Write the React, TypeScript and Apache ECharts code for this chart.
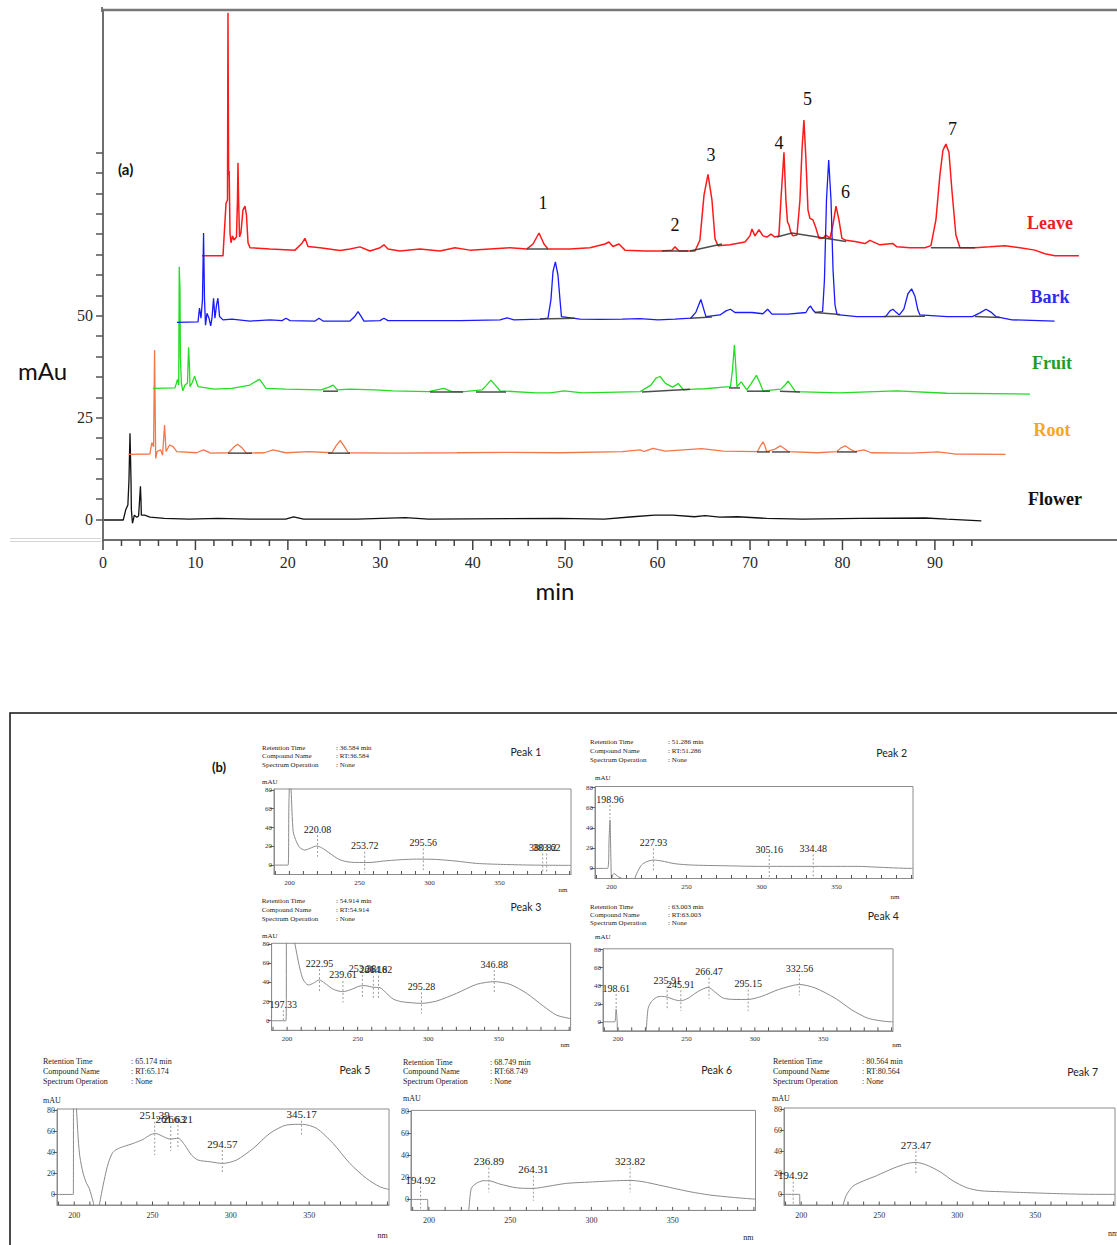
import React, { useEffect, useRef } from 'react';
import * as echarts from 'echarts';

// ---------------- (a) chromatograms: [time (min), signal (mAu)] ----------------
const leave = [[10.71,64.7],[12.98,64.7],[13.31,77.6],[13.47,78.4],[13.52,124.3],[13.59,84.5],[13.65,85.5],[13.74,70.3],[13.85,67.9],[14.01,69.6],[14.17,68.6],[14.44,69.3],[14.55,78.4],[14.6,87.5],[14.67,78.4],[14.77,69.3],[14.93,70.5],[15.14,75.9],[15.36,76.9],[15.52,74.7],[15.69,67.9],[15.9,66.7],[18.07,66.4],[20.77,66.1],[21.53,67.8],[21.85,69.0],[22.18,67.0],[23.48,66.7],[25.64,66.0],[26.72,66.4],[27.81,66.9],[28.88,65.9],[29.98,66.7],[30.4,67.4],[30.83,66.4],[32.13,65.9],[34.29,66.4],[36.46,65.9],[38.08,66.7],[39.7,66.1],[41.86,66.4],[44.03,66.7],[45.87,66.4],[46.52,67.6],[47.17,70.3],[47.71,67.6],[48.14,66.4],[50.52,66.4],[52.68,66.7],[54.31,67.6],[54.74,68.1],[55.17,67.0],[55.82,67.6],[56.47,66.1],[58.63,65.9],[60.26,65.9],[61.56,66.1],[61.88,66.9],[62.32,65.9],[64.04,65.9],[64.58,68.6],[65.02,79.6],[65.45,84.7],[65.88,78.4],[66.21,68.9],[66.53,67.2],[67.83,67.4],[69.45,68.1],[69.99,69.6],[70.21,71.3],[70.53,69.6],[70.97,71.1],[71.4,69.6],[71.83,69.3],[72.26,70.0],[72.69,69.3],[73.12,69.6],[73.34,78.4],[73.67,90.1],[73.88,78.4],[74.05,73.0],[74.21,72.3],[74.43,70.3],[74.64,69.6],[75.08,69.8],[75.4,78.4],[75.62,90.6],[75.83,98.0],[76.05,88.2],[76.27,75.9],[76.48,73.9],[76.81,73.5],[77.13,71.5],[77.46,69.0],[77.89,69.0],[78.21,69.8],[78.65,69.0],[78.97,72.3],[79.3,76.9],[79.62,73.5],[79.94,69.0],[80.38,68.5],[81.35,68.2],[82.43,67.7],[82.97,68.5],[84.05,67.4],[85.46,67.7],[85.89,66.9],[87.3,66.7],[88.92,66.7],[89.57,67.2],[90.11,73.5],[90.54,84.5],[90.87,90.6],[91.19,92.1],[91.52,90.1],[91.84,80.8],[92.27,69.8],[92.71,66.7],[94.33,66.7],[95.95,66.9],[97.58,67.2],[99.2,66.7],[100.82,66.1],[101.9,65.2],[102.99,64.7],[105.58,64.7]];

const bark = [[8.0,48.4],[10.28,48.5],[10.44,51.9],[10.6,49.4],[10.76,53.9],[10.88,70.3],[10.98,53.9],[11.09,47.7],[11.25,50.6],[11.47,49.4],[11.65,47.5],[11.79,49.4],[11.96,54.3],[12.11,49.4],[12.28,52.6],[12.43,54.3],[12.61,49.8],[12.98,49.0],[13.95,49.2],[15.9,48.7],[18.07,49.0],[19.37,48.8],[19.8,49.4],[20.23,48.8],[22.94,48.7],[23.37,49.4],[23.8,48.7],[26.72,48.7],[27.26,49.9],[27.59,51.0],[27.91,49.9],[28.23,48.7],[29.97,48.8],[30.39,49.4],[30.83,48.8],[34.29,48.8],[38.62,48.8],[42.95,49.0],[43.71,49.5],[44.46,49.0],[47.27,49.2],[48.14,49.4],[48.46,53.9],[48.68,60.8],[48.94,63.2],[49.22,60.0],[49.44,53.9],[49.6,49.8],[51.6,49.2],[53.77,49.1],[56.15,49.2],[58.09,49.3],[60.04,49.0],[61.88,49.2],[63.59,49.4],[64.15,50.9],[64.68,54.0],[65.02,51.4],[65.23,49.8],[66.75,50.2],[67.4,51.2],[67.88,51.6],[68.37,50.8],[70.21,50.8],[71.39,50.5],[71.9,51.6],[72.37,50.4],[74.1,50.4],[76.05,50.8],[76.32,51.9],[76.55,52.4],[76.81,51.4],[77.06,50.8],[77.85,51.0],[78.05,58.8],[78.27,78.4],[78.51,88.2],[78.76,78.4],[78.98,61.2],[79.19,52.7],[79.41,50.3],[81.57,49.8],[84.67,49.8],[85.14,51.2],[85.46,51.6],[85.78,50.9],[86.16,50.2],[86.65,51.7],[87.08,55.4],[87.48,56.6],[87.84,54.8],[88.16,51.4],[88.38,50.2],[91.3,49.8],[94.05,49.8],[94.87,50.7],[95.53,51.6],[96.06,50.9],[96.59,49.8],[98.33,49.0],[102.95,48.7]];

const fruit = [[5.4,32.2],[7.79,32.3],[8.06,34.4],[8.19,33.0],[8.25,62.0],[8.33,56.3],[8.37,40.0],[8.48,33.4],[8.64,31.6],[8.87,33.0],[9.14,33.5],[9.26,42.3],[9.37,36.7],[9.41,32.6],[9.63,33.5],[9.91,35.2],[10.17,33.3],[10.3,32.6],[12.04,32.0],[13.95,32.2],[15.9,33.0],[16.44,33.8],[16.94,34.4],[17.3,33.3],[17.63,32.2],[19.76,32.0],[23.58,31.8],[24.45,32.5],[24.9,33.0],[25.37,31.8],[26.72,32.0],[29.42,31.8],[31.36,31.6],[35.22,31.4],[36.88,32.2],[37.75,31.4],[39.05,31.4],[41.0,31.8],[41.43,32.8],[41.97,34.2],[42.51,32.8],[42.95,31.6],[46.81,31.1],[48.36,31.1],[49.91,31.6],[51.87,31.1],[58.12,31.4],[59.28,33.0],[59.82,34.7],[60.27,35.1],[60.85,33.4],[61.63,32.5],[62.23,33.4],[62.81,31.8],[63.98,32.0],[65.14,32.1],[67.1,32.5],[67.88,32.6],[68.1,36.7],[68.31,42.8],[68.48,36.7],[68.58,32.6],[69.05,33.8],[69.65,31.8],[70.1,33.3],[70.69,35.4],[71.07,33.5],[71.4,31.6],[73.35,32.0],[73.78,33.0],[74.13,34.0],[74.48,32.8],[74.91,31.4],[79.6,31.1],[85.85,31.6],[91.3,31.0],[100.28,30.8]];

const root = [[2.77,16.0],[5.08,16.1],[5.28,18.9],[5.47,17.9],[5.58,41.6],[5.7,15.0],[5.85,16.7],[6.24,17.1],[6.44,15.8],[6.66,23.2],[6.82,16.7],[7.2,18.3],[7.59,17.9],[7.98,16.7],[10.1,16.4],[10.88,17.1],[11.65,16.3],[13.59,16.4],[14.07,17.6],[14.55,18.5],[15.04,17.6],[15.51,16.3],[17.45,16.4],[18.41,17.1],[19.76,16.4],[22.28,16.7],[24.77,16.4],[25.21,18.1],[25.68,19.4],[26.07,18.1],[26.53,16.4],[31.36,16.3],[38.31,16.4],[43.7,16.5],[49.44,16.4],[56.17,16.7],[58.12,17.1],[58.51,16.7],[59.49,17.5],[60.85,16.8],[64.76,17.4],[67.1,16.8],[70.81,16.7],[71.13,18.1],[71.4,19.1],[71.61,18.1],[71.79,16.7],[72.7,17.3],[73.27,18.1],[73.78,17.3],[74.13,16.7],[77.25,16.4],[79.4,16.7],[79.83,17.6],[80.3,18.1],[80.81,17.3],[81.35,16.7],[82.32,17.1],[83.11,16.4],[87.41,16.3],[90.33,16.6],[92.09,16.1],[97.64,16.0]];

const flower = [[0.1,-0.1],[2.19,-0.1],[2.46,2.4],[2.69,3.6],[2.81,9.7],[2.92,21.2],[3.03,9.7],[3.07,2.4],[3.19,-0.9],[3.39,1.1],[3.66,0.6],[3.85,0.9],[3.96,4.8],[4.05,8.2],[4.11,4.8],[4.15,1.1],[4.5,1.1],[5.08,0.6],[6.63,0.3],[9.34,0.1],[12.43,0.3],[15.9,0.1],[19.76,0.1],[20.62,0.7],[21.7,0.1],[27.48,0.1],[32.71,0.5],[35.22,0.1],[49.44,0.3],[54.22,0.1],[57.33,0.7],[59.68,1.1],[61.63,1.1],[63.98,0.7],[65.14,1.0],[66.71,0.6],[68.66,0.7],[71.79,0.3],[75.69,0.1],[81.94,0.3],[88.98,0.4],[91.3,0.1],[95.02,-0.3]];

// integration baselines drawn under the peaks
const leaveBaselines = [[[45.87,66.4],[48.14,66.4]],[[60.47,65.9],[63.28,65.9]],[[63.5,65.9],[66.96,67.6]],[[72.91,69.3],[74.53,70.3],[80.38,68.2]],[[89.57,66.7],[94.33,66.7]]];
const barkBaselines = [[[47.27,49.2],[51.06,49.4]],[[63.5,49.4],[65.88,49.7]],[[77.02,50.8],[79.73,50.3]],[[84.45,49.8],[88.92,49.9]],[[94.33,49.8],[97.04,49.6]]];
const fruitBaselines = [[[23.8,31.5],[25.42,31.5]],[[35.37,31.3],[38.94,31.3]],[[40.35,31.3],[43.6,31.3]],[[58.31,31.3],[63.5,32.0]],[[67.72,32.3],[68.91,32.3]],[[69.67,31.5],[72.15,31.5]],[[73.23,31.5],[75.4,31.3]]];
const rootBaselines = [[[13.52,16.3],[16.12,16.3]],[[24.34,16.3],[26.72,16.3]],[[70.75,16.6],[72.15,16.6]],[[72.37,16.6],[74.32,16.6]],[[79.4,16.6],[81.57,16.6]]];

const traceNames = ['Leave', 'Bark', 'Fruit', 'Root', 'Flower'];
const xMajorTicks = [0, 10, 20, 30, 40, 50, 60, 70, 80, 90];
const xMinorTicks = [2,4,6,8,12,14,16,18,22,24,26,28,32,34,36,38,42,44,46,48,52,54,56,58,62,64,66,68,72,74,76,78,82,84,86,88,92,94];
const yLabelValues = [0, 25, 50];
const yTickValues = [0,5,10,15,20,25,30,35,40,45,50,55,60,65,70,75,80,85,90];
const peakNumbers = ['1', '2', '3', '4', '5', '6', '7'];

// ---------------- (b) UV spectra: [wavelength (nm), mAU] ----------------
const p1Curve = [[189,0],[199.1,0],[199.6,60],[200.3,95],[201.2,80],[202.7,35.5],[205,25],[207.5,18.5],[211,16],[214.6,17.8],[219.4,20.3],[223,18.5],[229,12.4],[235,6.4],[241,3.6],[248,2.8],[257.5,2.8],[267,4.3],[279,5.7],[290.8,6.4],[305,6],[319,4.3],[333.6,1.8],[352.7,0.7],[374,0],[401,-0.3]];
const p2Curve = [[189,0],[197.4,0],[198.4,30],[199,47.9],[199.6,10],[200.1,-9.9],[201.6,-5],[204.5,-8.3],[207,-10],[209,-14],[214.5,-14],[215.5,-10],[216.8,-5],[220,3.3],[223.4,6.6],[227.9,8.25],[233.5,7.3],[242.4,4.6],[253.5,3.3],[275.8,2.6],[298,2],[331,2],[364.7,2],[375.8,1.3],[400,0],[401,0]];
const p3Curve = [[189,0],[199.2,0],[199.7,95],[204,95],[204.6,88],[206.8,70.6],[209.1,54.2],[211.5,42.7],[215,37.4],[218.6,39.2],[222.8,42.7],[226.8,39.2],[232.7,32.9],[239.4,30.4],[244.6,32.2],[251.7,36.4],[255.2,36.7],[261.1,35],[265.8,34.6],[270.5,28.7],[275.2,22.7],[281.2,19.9],[295.4,18.2],[306,20.6],[320.2,28.7],[334.4,38.1],[346.9,40.9],[358,38.1],[369.8,28.7],[381.6,15.4],[391,5.9],[401,2.2]];
const p4Curve = [[189,0],[197.6,0],[198.2,8],[198.6,13.9],[199.3,2],[200.1,-14],[219.6,-14],[220.5,-10],[222,15],[224.5,22.6],[228.1,27.1],[231.8,28.2],[235.9,27.4],[241.5,24.4],[245.9,23.3],[251.3,26.3],[258.6,33.8],[265.9,38.3],[270.8,33.1],[276.9,26.3],[285.5,24.8],[295.2,24.8],[305,28.2],[317.2,35.7],[332.6,41.4],[344,37.6],[358.6,26.3],[370.9,13.2],[383,3.8],[400,0],[401,0]];
const p5Curve = [[189,0],[199.4,0],[199.6,95],[201,95],[201.5,80],[202.6,51.6],[203.6,35.8],[205.7,19.9],[207.9,10.4],[209.6,5.7],[212.1,-7],[213.2,-14],[215,-14],[216,-10],[217.4,0.9],[219.6,16.8],[221.7,29.4],[224.5,39.6],[227.4,43],[231.3,45.3],[237.7,48.4],[244,52.2],[248.3,56.3],[251.9,57.9],[255.7,55.7],[261.1,52.5],[266.4,53.2],[270.6,46.8],[274.9,37.3],[279.1,32.6],[286.6,31],[294.7,29.4],[303.6,32.6],[314.3,43.7],[324.9,57.9],[335.5,65.8],[345.7,66.5],[354.7,62.7],[365.3,48.4],[376,29.4],[386.6,15.2],[395.1,7.3],[401,4.7]];
const p6Curve = [[189,0],[199.2,0],[199.4,-14],[223.5,-14],[224.5,-10],[226.1,10],[229.2,14.6],[233.3,17],[236.8,17],[243.6,14],[253.8,10.6],[264.1,10],[274.4,12.2],[284.7,14.6],[299,15.8],[315.5,17],[323.8,17.3],[331.8,16.1],[344.2,12.2],[360.6,7],[372.9,4],[387.3,1.8],[401,0.2]];
const p7Curve = [[189,0],[199,0],[199.2,-14],[225.9,-14],[226.8,-10],[229,-0.6],[233.3,7.8],[239.7,12.5],[248.3,17.5],[258.9,24.4],[267.5,28.8],[273.5,30],[280.3,27.5],[288.8,21.3],[297.4,12.5],[305.9,6.3],[314.5,3.4],[327.3,2.5],[344.3,1.6],[365.7,0.6],[387,0],[401,0]];

// peak-apex marks: [wavelength, dash top, dash bottom, label]
const p1Marks = [[220.08,32,8.9,'220.08'],[253.72,14.2,-7.8,'253.72'],[295.56,17.8,-5.3,'295.56'],[380.82,12.4,-8.9,'380.82'],[383.62,12.4,-8.9,'383.62']];
const p2Marks = [[198.96,62.7,49.5,'198.96'],[227.93,19.8,-3.3,'227.93'],[305.16,13.2,-9.9,'305.16'],[334.48,13.9,-9.2,'334.48']];
const p3Marks = [[197.33,11,0.7,'197.33'],[222.95,54,31,'222.95'],[239.61,41.6,19.2,'239.61'],[253.38,48,25,'253.38'],[261.16,47,24,'261.16'],[264.82,47,24,'264.82'],[295.28,29.7,7.7,'295.28'],[346.88,53,29.7,'346.88']];
const p4Marks = [[198.61,30.8,13.2,'198.61'],[235.91,39.5,15,'235.91'],[245.91,35,12,'245.91'],[266.47,48.9,25.6,'266.47'],[295.15,35.7,12,'295.15'],[332.56,52.6,29.3,'332.56']];
const p5Marks = [[251.39,69,37.3,'251.39'],[261.63,64.9,41.1,'261.63'],[266.21,65.8,42.7,'266.21'],[294.57,42.1,19.3,'294.57'],[345.17,69.9,54.7,'345.17']];
const p6Marks = [[194.92,11.6,-9.7,'194.92'],[236.89,28.9,6.4,'236.89'],[264.31,21.6,-1.2,'264.31'],[323.82,28.9,6.4,'323.82']];
const p7Marks = [[194.92,11.9,-10,'194.92'],[273.47,40.6,18.8,'273.47']];

const retentionTimes = ['36.584', '51.286', '54.914', '63.003', '65.174', '68.749', '80.564'];
const peakTitles = ['Peak 1', 'Peak 2', 'Peak 3', 'Peak 4', 'Peak 5', 'Peak 6', 'Peak 7'];
const specYLabels = [0, 20, 40, 60, 80];
const specXLabels = [200, 250, 300, 350];
const specXTicks = [190,200,210,220,230,240,250,260,270,280,290,300,310,320,330,340,350,360,370,380,390,400];

const SERIF = '"Liberation Serif", "DejaVu Serif", serif';
const SANS = 'Lato, "Open Sans", sans-serif';

const TOP_GRID = { left: 103, top: 10, width: 1014, height: 530 };
const TOP_X = { min: 0, max: 109.7 };
const SPEC_X = { min: 189, max: 401 };

const LAYOUT = [
  { grid: { left: 274, top: 789, width: 297, height: 85.5 }, hx: 262, vx: 336, hy: 748, dy: 8.3, px: 526, py: 752, mx: 262, my: 782, nx: 563, ny: 890, fs: 7, lfs: 10 },
  { grid: { left: 595, top: 786.5, width: 318, height: 92 }, hx: 590, vx: 668, hy: 741.7, dy: 9.2, px: 891.7, py: 753.3, mx: 595, my: 778.3, nx: 895, ny: 897, fs: 7, lfs: 10 },
  { grid: { left: 271.6, top: 943.3, width: 299, height: 87 }, hx: 261.7, vx: 336, hy: 901, dy: 9, px: 526, py: 906.7, mx: 262, my: 935.7, nx: 565, ny: 1045, fs: 7, lfs: 10 },
  { grid: { left: 603, top: 948.8, width: 290, height: 82 }, hx: 590, vx: 668, hy: 906.7, dy: 8.3, px: 883.3, py: 915.7, mx: 595, my: 937.3, nx: 896.7, ny: 1045, fs: 7, lfs: 10 },
  { grid: { left: 57, top: 1109, width: 332, height: 96 }, hx: 43, vx: 131, hy: 1061.7, dy: 9.7, px: 355, py: 1070, mx: 43, my: 1100.7, nx: 382.7, ny: 1235.7, fs: 8, lfs: 11 },
  { grid: { left: 411, top: 1110.4, width: 344.5, height: 100 }, hx: 403, vx: 490, hy: 1062, dy: 9.8, px: 716.7, py: 1070, mx: 403, my: 1098.3, nx: 748.3, ny: 1237.7, fs: 8, lfs: 11 },
  { grid: { left: 784, top: 1108, width: 331, height: 97 }, hx: 773, vx: 862, hy: 1061.7, dy: 9.7, px: 1082.7, py: 1072.3, mx: 772, my: 1098.3, nx: 1113, ny: 1233, fs: 8, lfs: 11 },
];

// axis tick marks, positioned with the same linear mapping the value axes use
function xTickGraphics(grid: any, range: any, values: number[], len: number, color: string, width: number) {
  const yb = grid.top + grid.height;
  return values.map((v) => {
    const x = grid.left + ((v - range.min) / (range.max - range.min)) * grid.width;
    return {
      type: 'line', silent: true, z: 100,
      shape: { x1: x, y1: yb, x2: x, y2: yb + len },
      style: { stroke: color, lineWidth: width },
    };
  });
}

function buildOption() {
  const curves = [p1Curve, p2Curve, p3Curve, p4Curve, p5Curve, p6Curve, p7Curve];
  const marks = [p1Marks, p2Marks, p3Marks, p4Marks, p5Marks, p6Marks, p7Marks];

  const grids: any[] = [TOP_GRID];
  const xAxes: any[] = [
    {
      gridIndex: 0, type: 'value', position: 'bottom', min: TOP_X.min, max: TOP_X.max,
      axisLine: { show: true, onZero: false, lineStyle: { color: '#6f6f6f', width: 2 } },
      axisTick: { show: false },
      axisLabel: { customValues: xMajorTicks, fontSize: 16, fontFamily: SERIF, color: '#2a2a2a', margin: 14 },
      splitLine: { show: false },
    },
  ];
  const yAxes: any[] = [
    {
      gridIndex: 0, type: 'value', position: 'left', min: -5, max: 125,
      axisLine: { show: true, onZero: false, lineStyle: { color: '#6f6f6f', width: 2 } },
      axisTick: { show: true, customValues: yTickValues, length: 7, lineStyle: { color: '#555', width: 1.5 } },
      axisLabel: { customValues: yLabelValues, fontSize: 16, fontFamily: SERIF, color: '#2a2a2a', margin: 10 },
      splitLine: { show: false },
    },
  ];

  const traceData = [leave, bark, fruit, root, flower];
  const traceColors = ['#ff1a1a', '#1a1aff', '#22dd22', '#f4774a', '#111111'];
  const drawOrder = [4, 3, 2, 0, 1];
  const series: any[] = [];
  drawOrder.forEach((i) => {
    series.push({
      type: 'line', name: traceNames[i], xAxisIndex: 0, yAxisIndex: 0,
      data: traceData[i], showSymbol: false, symbol: 'none',
      lineStyle: { color: traceColors[i], width: i === 0 ? 1.5 : 1.3 }, z: 3,
    });
  });
  [leaveBaselines, barkBaselines, fruitBaselines, rootBaselines].forEach((segs) => {
    series.push({
      type: 'lines', coordinateSystem: 'cartesian2d', xAxisIndex: 0, yAxisIndex: 0, polyline: true,
      data: segs.map((c) => ({ coords: c })),
      lineStyle: { color: '#3a3a3a', width: 1.5, opacity: 0.9 }, z: 4,
    });
  });

  const graphic: any[] = [];
  const txt = (text: string, x: number, y: number, o: any) => ({
    type: 'text', x, y, silent: true,
    style: Object.assign({ text, fill: '#222', align: 'left', verticalAlign: 'middle', fontFamily: SERIF, fontSize: 10 }, o),
  });

  // top panel decorations
  graphic.push({ type: 'line', shape: { x1: 102, y1: 10, x2: 1117, y2: 10 }, style: { stroke: '#777', lineWidth: 2.5 } });
  graphic.push({ type: 'line', shape: { x1: 102, y1: 7, x2: 102, y2: 12 }, style: { stroke: '#777', lineWidth: 2 } });
  graphic.push({ type: 'line', shape: { x1: 10, y1: 538.5, x2: 101, y2: 538.5 }, style: { stroke: '#d4d4d4', lineWidth: 1 } });
  graphic.push({ type: 'line', shape: { x1: 10, y1: 541.5, x2: 101, y2: 541.5 }, style: { stroke: '#d4d4d4', lineWidth: 1 } });
  xTickGraphics(TOP_GRID, TOP_X, xMajorTicks, 10, '#444', 1.5).forEach((g) => graphic.push(g));
  xTickGraphics(TOP_GRID, TOP_X, xMinorTicks, 6, '#444', 1.5).forEach((g) => graphic.push(g));
  graphic.push(txt('(a)', 118, 169, { fontFamily: SANS, fontWeight: 'bold', fontSize: 15, fill: '#111' }));
  graphic.push(txt('mAu', 18, 370, { fontFamily: SANS, fontSize: 24, fill: '#111' }));
  graphic.push(txt('min', 555, 590, { fontFamily: SANS, fontSize: 24, fill: '#111', align: 'center' }));
  const peakPos = [[543, 203], [675, 225], [711, 155], [779, 143], [807.5, 99], [845.5, 191.5], [952.5, 129]];
  peakNumbers.forEach((n, i) => graphic.push(txt(n, peakPos[i][0], peakPos[i][1], { fontSize: 18, align: 'center', fill: '#111' })));
  const nameColors = ['#e8202a', '#2b2be8', '#1f9f1f', '#f5a623', '#111111'];
  const namePos = [[1050, 223], [1050, 297], [1052, 363], [1052, 429.5], [1055, 499]];
  traceNames.forEach((n, i) => graphic.push(txt(n, namePos[i][0], namePos[i][1], { fontSize: 18, fontWeight: 'bold', align: 'center', fill: nameColors[i] })));

  // bottom panel frame
  graphic.push({ type: 'rect', shape: { x: 10, y: 713, width: 1120, height: 545 }, style: { stroke: '#111', lineWidth: 1.5, fill: 'none' }, silent: true });
  graphic.push(txt('(b)', 212, 767, { fontFamily: SANS, fontWeight: 'bold', fontSize: 13, fill: '#111' }));

  LAYOUT.forEach((L, i) => {
    const gi = i + 1;
    grids.push(Object.assign({ show: true, borderColor: '#8c8c8c', borderWidth: 1, backgroundColor: 'transparent' }, L.grid));
    xAxes.push({
      gridIndex: gi, type: 'value', position: 'bottom', min: SPEC_X.min, max: SPEC_X.max,
      axisLine: { show: true, onZero: false, lineStyle: { color: '#8c8c8c', width: 1 } },
      axisTick: { show: false },
      axisLabel: { customValues: specXLabels, fontSize: L.fs, fontFamily: SERIF, color: '#333', margin: L.fs === 7 ? 5 : 6 },
      splitLine: { show: false },
    });
    yAxes.push({
      gridIndex: gi, type: 'value', position: 'left', min: -10, max: 81,
      axisLine: { show: true, onZero: false, lineStyle: { color: '#8c8c8c', width: 1 } },
      axisTick: { show: true, customValues: specYLabels, length: 4, lineStyle: { color: '#666' } },
      axisLabel: { customValues: specYLabels, fontSize: L.fs, fontFamily: SERIF, color: '#333', margin: 2 },
      splitLine: { show: false },
    });
    series.push({
      type: 'line', xAxisIndex: gi, yAxisIndex: gi, data: curves[i], showSymbol: false, symbol: 'none',
      smooth: 0.25, lineStyle: { color: '#8a8a8a', width: 1 }, clip: true,
    });
    xTickGraphics(L.grid, SPEC_X, specXTicks, -3.5, '#555', 1).forEach((g) => graphic.push(g));
    const lfs = L.lfs;
    series.push({
      type: 'custom', xAxisIndex: gi, yAxisIndex: gi, clip: false,
      data: marks[i].map((m) => ({ value: [m[0], m[1], m[2]], name: m[3] })),
      encode: { x: 0, y: [1, 2] },
      renderItem: (params: any, api: any) => {
        const nm = api.value(0);
        const p1 = api.coord([nm, api.value(1)]);
        const p2 = api.coord([nm, api.value(2)]);
        const label = marks[i][params.dataIndex][3];
        return {
          type: 'group',
          children: [
            { type: 'line', shape: { x1: p1[0], y1: p1[1], x2: p2[0], y2: p2[1] }, style: { stroke: '#9a9a9a', lineWidth: 1, lineDash: [2, 2] } },
            { type: 'text', x: p1[0], y: p1[1] - 1, style: { text: label, align: 'center', verticalAlign: 'bottom', fontSize: lfs, fontFamily: SERIF, fill: '#222' } },
          ],
        };
      },
      z: 5,
    });
    const rows = [['Retention Time', ': ' + retentionTimes[i] + ' min'], ['Compound Name', ': RT:' + retentionTimes[i]], ['Spectrum Operation', ': None']];
    rows.forEach((r, k) => {
      graphic.push(txt(r[0], L.hx, L.hy + k * L.dy, { fontSize: L.fs }));
      graphic.push(txt(r[1], L.vx, L.hy + k * L.dy, { fontSize: L.fs }));
    });
    graphic.push(txt(peakTitles[i], L.px, L.py, { fontFamily: SANS, fontSize: 10.5, align: 'center' }));
    graphic.push(txt('mAU', L.mx, L.my, { fontSize: L.fs }));
    graphic.push(txt('nm', L.nx, L.ny, { fontSize: L.fs, align: 'center' }));
  });

  return {
    animation: false,
    backgroundColor: '#ffffff',
    grid: grids,
    xAxis: xAxes,
    yAxis: yAxes,
    series,
    graphic: { elements: graphic },
  };
}

export default function App() {
  const ref = useRef<HTMLDivElement>(null);
  useEffect(() => {
    if (!ref.current) return;
    const chart = echarts.init(ref.current, null, { renderer: 'svg' });
    chart.setOption(buildOption());
    return () => chart.dispose();
  }, []);
  return <div ref={ref} style={{ position: 'absolute', left: 0, top: 0, width: 1117, height: 1245 }} />;
}
